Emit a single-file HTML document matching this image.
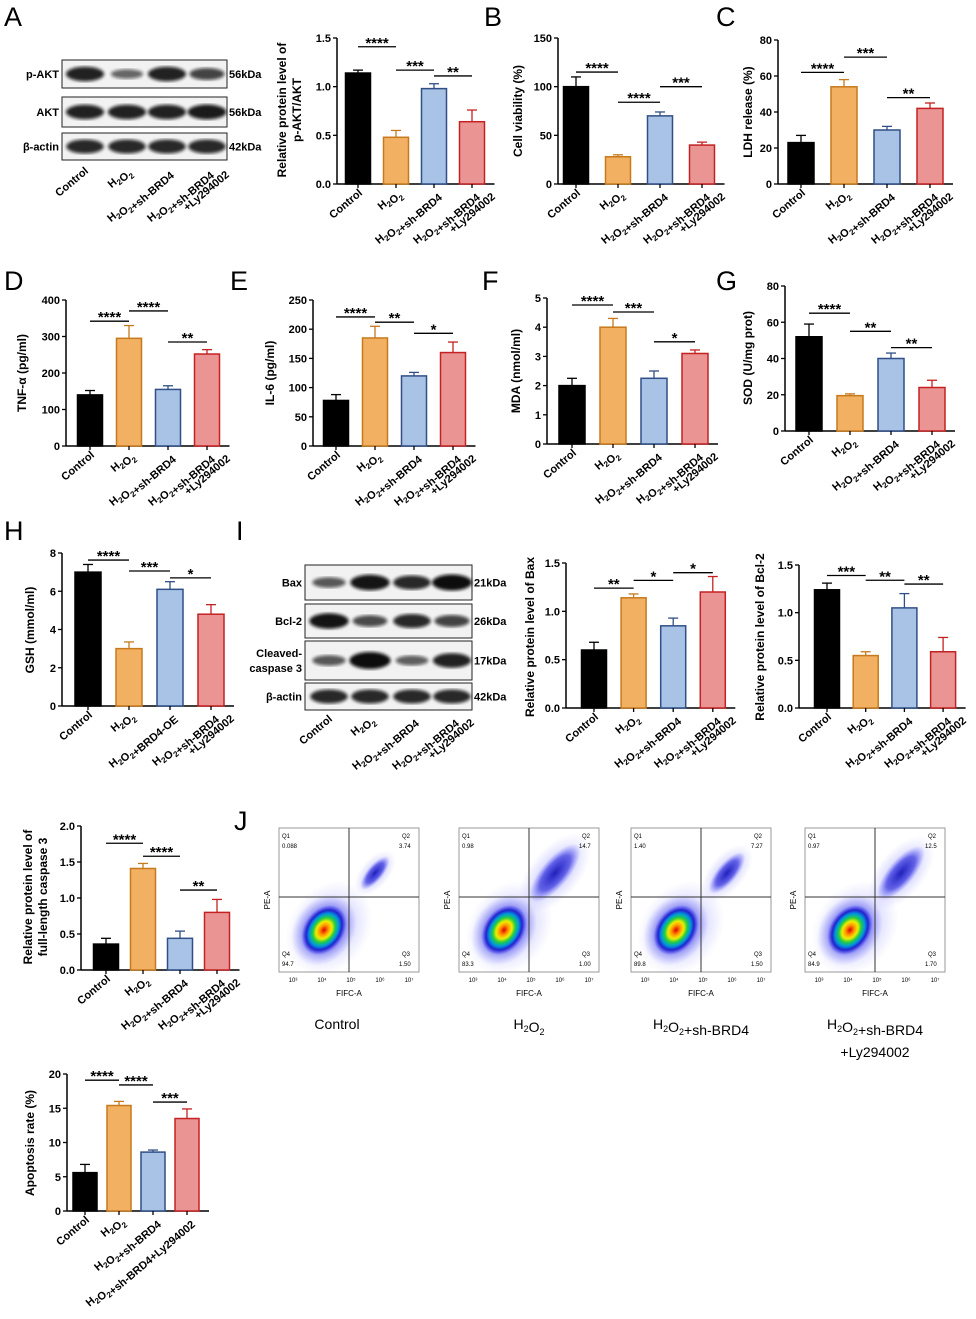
<!DOCTYPE html>
<html><head><meta charset="utf-8"><style>
html,body{margin:0;padding:0;background:#fff;}
svg{display:block;font-family:"Liberation Sans",Arial,sans-serif;}
.t{font-size:11px;font-weight:bold;}
.lbl{font-size:11px;font-weight:bold;}
.ttl{font-size:12px;font-weight:bold;}
.let{font-size:27px;}
</style></head><body>
<svg id="fig" width="976" height="1319" viewBox="0 0 976 1319">
<defs>
<radialGradient id="dens"><stop offset="0" stop-color="#d00"/><stop offset="0.2" stop-color="#f90"/><stop offset="0.35" stop-color="#ee0"/><stop offset="0.5" stop-color="#2c4"/><stop offset="0.65" stop-color="#09d"/><stop offset="0.8" stop-color="#22c"/><stop offset="1" stop-color="#44f" stop-opacity="0"/></radialGradient>
<radialGradient id="dens2"><stop offset="0" stop-color="#22b"/><stop offset="0.6" stop-color="#33d" stop-opacity="0.7"/><stop offset="1" stop-color="#66f" stop-opacity="0"/></radialGradient>
<radialGradient id="halo"><stop offset="0" stop-color="#55f" stop-opacity="0.5"/><stop offset="1" stop-color="#88f" stop-opacity="0"/></radialGradient>
<filter id="blur"><feGaussianBlur stdDeviation="1.6"/></filter>
</defs>
<g id="letters">
<text class="let" x="4" y="26">A</text><text class="let" x="484" y="26">B</text><text class="let" x="716" y="26">C</text>
<text class="let" x="4" y="290">D</text><text class="let" x="230" y="290">E</text><text class="let" x="482" y="290">F</text><text class="let" x="716" y="290">G</text>
<text class="let" x="4" y="540">H</text><text class="let" x="236" y="540">I</text><text class="let" x="234" y="830">J</text>
</g>
<g id="charts"></g>
<g id="blots"></g>
<g id="flow"></g>
</svg>
<script>
const NS='http://www.w3.org/2000/svg';
const fig=document.getElementById('charts');
function mk(tag,attrs,parent,txt){const e=document.createElementNS(NS,tag);for(const k in attrs)e.setAttribute(k,attrs[k]);if(txt!==undefined)e.textContent=txt;parent.appendChild(e);return e;}

// ---- data ----
const groupsStd=['Control','H2O2','H2O2+sh-BRD4','H2O2+sh-BRD4|+Ly294002'];
const groupsH=['Control','H2O2','H2O2+BRD4-OE','H2O2+sh-BRD4|+Ly294002'];
const groupsApop=['Control','H2O2','H2O2+sh-BRD4','H2O2+sh-BRD4+Ly294002'];
const aVals=[1.14,0.48,0.98,0.64], aErr=[0.03,0.07,0.05,0.12], aTicks=['0.0','0.5','1.0','1.5'];
const bVals=[100,28,70,40], bErr=[10,2,4,3], bTicks=['0','50','100','150'];
const cVals=[23,54,30,42], cErr=[4,4,2,3], cTicks=['0','20','40','60','80'];
const dVals=[140,295,155,252], dErr=[12,35,10,12], dTicks=['0','100','200','300','400'];
const eVals=[78,185,120,160], eErr=[10,20,6,18], eTicks=['0','50','100','150','200','250'];
const fVals=[2.0,4.0,2.25,3.1], fErr=[0.25,0.3,0.25,0.12], fTicks=['0','1','2','3','4','5'];
const gVals=[52,19.5,40,24], gErr=[7,1,3,4], gTicks=['0','20','40','60','80'];
const hVals=[7.0,3.0,6.1,4.8], hErr=[0.4,0.35,0.4,0.5], hTicks=['0','2','4','6','8'];
const baxVals=[0.6,1.14,0.85,1.2], baxErr=[0.08,0.04,0.08,0.16], baxTicks=['0.0','0.5','1.0','1.5'];
const bclVals=[1.24,0.55,1.05,0.59], bclErr=[0.07,0.04,0.15,0.15], bclTicks=['0.0','0.5','1.0','1.5'];
const caspVals=[0.36,1.41,0.44,0.8], caspErr=[0.08,0.07,0.1,0.18], caspTicks=['0.0','0.5','1.0','1.5','2.0'];
const apopVals=[5.6,15.4,8.6,13.5], apopErr=[1.2,0.6,0.3,1.4], apopTicks=['0','5','10','15','20'];
const aSig=[[0,1,1.41,'****'],[1,2,1.17,'***'],[2,3,1.11,'**']];
const bSig=[[0,1,115,'****'],[1,2,84,'****'],[2,3,100,'***']];
const cSig=[[0,1,62,'****'],[1,2,70.5,'***'],[2,3,48,'**']];
const dSig=[[0,1,342,'****'],[1,2,370,'****'],[2,3,285,'**']];
const eSig=[[0,1,221,'****'],[1,2,212,'**'],[2,3,193,'*']];
const fSig=[[0,1,4.76,'****'],[1,2,4.52,'***'],[2,3,3.5,'*']];
const gSig=[[0,1,65,'****'],[1,2,55,'**'],[2,3,46,'**']];
const hSig=[[0,1,7.63,'****'],[1,2,7.06,'***'],[2,3,6.7,'*']];
const baxSig=[[0,1,1.24,'**'],[1,2,1.32,'*'],[2,3,1.40,'*']];
const bclSig=[[0,1,1.39,'***'],[1,2,1.34,'**'],[2,3,1.30,'**']];
const caspSig=[[0,1,1.76,'****'],[1,2,1.58,'****'],[2,3,1.11,'**']];
const apopSig=[[0,1,19.1,'****'],[1,2,18.4,'****'],[2,3,15.9,'***']];

const fills=['#000','#f2b062','#a8c3e6','#ea9494'];
const edges=['#000','#c77a1c','#2f4f86','#c42222'];

function label(parent,x,y,txt,cls,dx,dy){
  const t=mk('text',{x:dx||0,y:dy||0,class:cls,'text-anchor':'end',transform:`translate(${x} ${y}) rotate(-40)`},parent);
  const parts=txt.split('O2');
  parts.forEach((p,i)=>{
    const segs=p.split('H2');
    segs.forEach((s,j)=>{
      if(j>0){mk('tspan',{},t,'H');mk('tspan',{'font-size':'8','dy':'3'},t,'2');mk('tspan',{dy:'-3'},t,'');}
      if(s)mk('tspan',{},t,s);
    });
    if(i<parts.length-1){mk('tspan',{},t,'O');mk('tspan',{'font-size':'8','dy':'3'},t,'2');mk('tspan',{dy:'-3'},t,'');}
  });
  return t;
}

function chart(name,c){
  const g=mk('g',{},fig);
  
  
  const max=parseFloat(c.ticks[c.ticks.length-1]);
  const y=v=>c.yBot-(v/max)*(c.yBot-c.yTop);
  const xc=i=>c.x0c+i*c.step;
  const xEnd=xc(c.vals.length-1)+c.bw/2+10;
  mk('line',{x1:c.ax,y1:c.yTop,x2:c.ax,y2:c.yBot,stroke:'#000','stroke-width':1.5},g);
  mk('line',{x1:c.ax,y1:c.yBot,x2:xEnd,y2:c.yBot,stroke:'#000','stroke-width':1.5},g);
  c.ticks.forEach(tk=>{const v=parseFloat(tk);const yy=y(v);
    mk('line',{x1:c.ax-4,y1:yy,x2:c.ax,y2:yy,stroke:'#000','stroke-width':1.3},g);
    const t=mk('text',{x:c.ax-6,y:yy+4,class:'t','text-anchor':'end'},g,tk);
    });
  c.vals.forEach((v,i)=>{
    const x=xc(i);
    const er=c.errs[i];
    mk('line',{x1:x,y1:y(v+er),x2:x,y2:y(v),stroke:edges[i],'stroke-width':1.3},g);
    mk('line',{x1:x-5,y1:y(v+er),x2:x+5,y2:y(v+er),stroke:edges[i],'stroke-width':1.3},g);
    const r=mk('rect',{x:x-c.bw/2,y:y(v),width:c.bw,height:c.yBot-y(v),fill:fills[i],stroke:edges[i],'stroke-width':1.5},g);
    
    mk('line',{x1:x,y1:c.yBot,x2:x,y2:c.yBot+4,stroke:'#000','stroke-width':1.3},g);
    const lines=c.groups[i].split('|');
    const lx=x+5,ly=c.yBot+10;
    const t=label(g,lx,ly,lines[0],'lbl');
    
    if(lines[1]){const t2=label(g,lx,ly,lines[1],'lbl',12,15);}
  });
  c.sig.forEach(s=>{
    const yy=y(s[2]);
    mk('line',{x1:xc(s[0]),y1:yy,x2:xc(s[1]),y2:yy,stroke:'#000','stroke-width':1.3},g);
    const t=mk('text',{x:(xc(s[0])+xc(s[1]))/2,y:yy+1,'text-anchor':'middle','font-size':'15','font-weight':'bold'},g,s[3]);
    
  });
  c.title.forEach((tl,k)=>{
    const tx=c.tx+k*15, ty=c.ty;
    const t=mk('text',{x:tx,y:ty,class:'ttl','text-anchor':'middle',transform:`rotate(-90 ${tx} ${ty})`},g,tl);
    
  });
}

chart('chart-p-akt',{ax:337,yTop:38,yBot:184,x0c:358,step:38,bw:25,vals:aVals,errs:aErr,ticks:aTicks,sig:aSig,groups:groupsStd,title:['Relative protein level of','p-AKT/AKT'],tx:286,ty:110});
chart('chart-cell-viability',{ax:558,yTop:38,yBot:184,x0c:576,step:42,bw:25,vals:bVals,errs:bErr,ticks:bTicks,sig:bSig,groups:groupsStd,title:['Cell viability (%)'],tx:522,ty:111});
chart('chart-ldh',{ax:778,yTop:40,yBot:184,x0c:801,step:43,bw:26,vals:cVals,errs:cErr,ticks:cTicks,sig:cSig,groups:groupsStd,title:['LDH release (%)'],tx:752,ty:112});
chart('chart-tnf',{ax:66,yTop:300,yBot:446,x0c:90,step:39,bw:25,vals:dVals,errs:dErr,ticks:dTicks,sig:dSig,groups:groupsStd,title:['TNF-α (pg/ml)'],tx:26,ty:373});
chart('chart-il6',{ax:313,yTop:300,yBot:446,x0c:336,step:39,bw:25,vals:eVals,errs:eErr,ticks:eTicks,sig:eSig,groups:groupsStd,title:['IL-6 (pg/ml)'],tx:274,ty:373});
chart('chart-mda',{ax:547,yTop:298,yBot:444,x0c:572,step:41,bw:26,vals:fVals,errs:fErr,ticks:fTicks,sig:fSig,groups:groupsStd,title:['MDA (nmol/ml)'],tx:520,ty:371});
chart('chart-sod',{ax:785,yTop:286,yBot:431,x0c:809,step:41,bw:26,vals:gVals,errs:gErr,ticks:gTicks,sig:gSig,groups:groupsStd,title:['SOD (U/mg prot)'],tx:752,ty:358});
chart('chart-gsh',{ax:62,yTop:553,yBot:706,x0c:88,step:41,bw:26,vals:hVals,errs:hErr,ticks:hTicks,sig:hSig,groups:groupsH,title:['GSH (mmol/ml)'],tx:34,ty:630});
chart('chart-bax',{ax:566,yTop:563,yBot:708,x0c:594,step:39.6,bw:25,vals:baxVals,errs:baxErr,ticks:baxTicks,sig:baxSig,groups:groupsStd,title:['Relative protein level of Bax'],tx:534,ty:637});
chart('chart-bcl2',{ax:799,yTop:565,yBot:708,x0c:827,step:38.7,bw:25,vals:bclVals,errs:bclErr,ticks:bclTicks,sig:bclSig,groups:groupsStd,title:['Relative protein level of Bcl-2'],tx:764,ty:637});
chart('chart-caspase3',{ax:81,yTop:826,yBot:970,x0c:106,step:37,bw:25,vals:caspVals,errs:caspErr,ticks:caspTicks,sig:caspSig,groups:groupsStd,title:['Relative protein level of','full-length caspase 3'],tx:32,ty:897});
chart('chart-apoptosis',{ax:67,yTop:1074,yBot:1211,x0c:85,step:34,bw:24,vals:apopVals,errs:apopErr,ticks:apopTicks,sig:apopSig,groups:groupsApop,title:['Apoptosis rate (%)'],tx:34,ty:1143});

// ---- blots ----
const blots=document.getElementById('blots');
function blot(name,x0,x1,rows,lanes,lanesLabels,ly){
  const g=mk('g',{},blots);
  rows.forEach(r=>{
    mk('rect',{x:x0,y:r.y0,width:x1-x0,height:r.y1-r.y0,fill:'#f2f2f2',stroke:'#222','stroke-width':1},g);
    const cy=(r.y0+r.y1)/2;
    r.int.forEach((k,i)=>{mk('ellipse',{cx:lanes[i],cy:cy,rx:14+6*k,ry:3+5*k,fill:'#0a0a0a',opacity:0.4+0.6*k,filter:'url(#blur)'},g);});
    r.name.split('|').forEach((nm,j,arr)=>{const t=mk('text',{x:x0-3,y:cy+4+(j-(arr.length-1)/2)*15,class:'lbl','text-anchor':'end','font-size':'12'},g,nm);});
    const t=mk('text',{x:x1+2,y:cy+4,class:'lbl','font-size':'12'},g,r.kda);
  });
  lanesLabels.forEach((l,i)=>{const ls=l.split('|');const t=label(g,lanes[i]+4,ly,ls[0],'lbl');
    if(ls[1]){const t2=label(g,lanes[i]+4,ly,ls[1],'lbl',12,15);}});
}
blot('western-blot-akt',62,227,[
 {y0:60,y1:88,name:'p-AKT',kda:'56kDa',int:[0.85,0.35,0.85,0.6]},
 {y0:97,y1:127,name:'AKT',kda:'56kDa',int:[0.85,0.85,0.85,0.9]},
 {y0:133,y1:160,name:'β-actin',kda:'42kDa',int:[0.8,0.8,0.8,0.8]}],[85,127,167,207],groupsStd,172);
blot('western-blot-apoptosis',305,472,[
 {y0:565,y1:600,name:'Bax',kda:'21kDa',int:[0.45,0.95,0.8,1]},
 {y0:604,y1:638,name:'Bcl-2',kda:'26kDa',int:[0.95,0.55,0.8,0.6]},
 {y0:641,y1:680,name:'Cleaved-|caspase 3',kda:'17kDa',int:[0.45,1.1,0.4,0.85]},
 {y0:683,y1:710,name:'β-actin',kda:'42kDa',int:[0.8,0.8,0.8,0.8]}],[329,370,412,452],groupsStd,720);

// ---- flow ----
const flow=document.getElementById('flow');
const flowX=[279,459,631,805];
const flowNames=['Control','H2O2','H2O2+sh-BRD4','H2O2+sh-BRD4|+Ly294002'];
const q={q1:['0.088','0.98','1.40','0.97'],q2:['3.74','14.7','7.27','12.5'],q3:['1.50','1.00','1.50','1.70'],q4:['94.7','83.3','89.8','84.9']};
flowX.forEach((x,i)=>{
  const g=mk('g',{},flow);
  const y0=828,w=140,h=144,vx=x+70,hy=y0+69;
  mk('rect',{x:x,y:y0,width:w,height:h,fill:'#fff',stroke:'#999','stroke-width':1},g);
  mk('ellipse',{cx:x+50,cy:y0+100,rx:40,ry:50,fill:'url(#halo)',transform:`rotate(35 ${x+50} ${y0+100})`},g);
  mk('ellipse',{cx:x+45,cy:y0+102,rx:30,ry:38,fill:'url(#dens2)',opacity:0.7,transform:`rotate(35 ${x+45} ${y0+102})`},g);
  mk('ellipse',{cx:x+45,cy:y0+102,rx:20,ry:27,fill:'url(#dens)',transform:`rotate(35 ${x+45} ${y0+102})`},g);
  const s=[0.8,1.4,1.0,1.3][i];
  mk('ellipse',{cx:x+96,cy:y0+45,rx:18*s,ry:34*s,fill:'url(#halo)',transform:`rotate(40 ${x+96} ${y0+45})`},g);
  mk('ellipse',{cx:x+96,cy:y0+45,rx:10*s,ry:26*s,fill:'url(#dens2)',transform:`rotate(40 ${x+96} ${y0+45})`},g);
  mk('line',{x1:vx,y1:y0,x2:vx,y2:y0+h,stroke:'#333','stroke-width':1},g);
  mk('line',{x1:x,y1:hy,x2:x+w,y2:hy,stroke:'#333','stroke-width':1},g);
  [['Q1',x+3,y0+10],[q.q1[i],x+3,y0+20],['Q2',x+w-17,y0+10],[q.q2[i],x+w-20,y0+20],['Q4',x+3,y0+128],[q.q4[i],x+3,y0+138],['Q3',x+w-17,y0+128],[q.q3[i],x+w-20,y0+138]].forEach(a=>mk('text',{x:a[1],y:a[2],'font-size':'6'},g,a[0]));
  ['10³','10⁴','10⁵','10⁶','10⁷'].forEach((tk,k)=>mk('text',{x:x+14+k*29,y:y0+h+10,'font-size':'6','text-anchor':'middle'},g,tk));
  mk('text',{x:x+70,y:y0+h+24,'font-size':'8','text-anchor':'middle'},g,'FIFC-A');
  mk('text',{x:x-9,y:y0+72,'font-size':'8','text-anchor':'middle',transform:`rotate(-90 ${x-9} ${y0+72})`},g,'PE-A');
  const nm=flowNames[i].split('|');
  nm.forEach((n,j)=>{
    const t=mk('text',{x:x+w/2-(i==0?12:0),y:1029+j*28,'font-size':'14','text-anchor':'middle'},g);
    
    n.split('O2').forEach((p,k,arr)=>{
      if(p.startsWith('H2')){mk('tspan',{},t,'H');mk('tspan',{'font-size':'9',dy:'3'},t,'2');mk('tspan',{dy:'-3'},t,'');p=p.slice(2);}
      if(p)mk('tspan',{},t,p);
      if(k<arr.length-1){mk('tspan',{},t,'O');mk('tspan',{'font-size':'9',dy:'3'},t,'2');mk('tspan',{dy:'-3'},t,'');}
    });
  });
});
</script>
</body></html>
